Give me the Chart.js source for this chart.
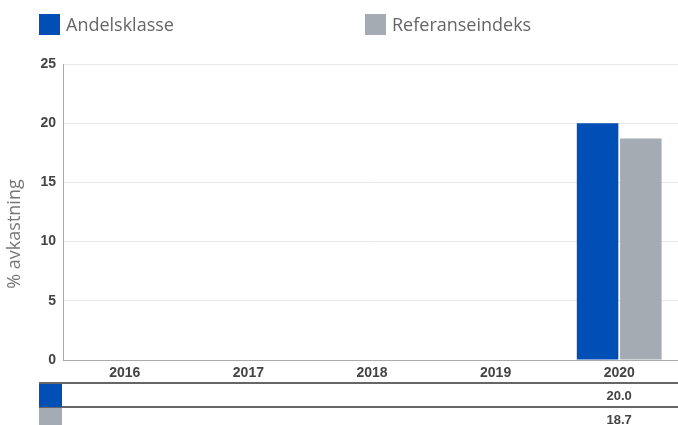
<!DOCTYPE html>
<html>
<head>
<meta charset="utf-8">
<script src="https://cdn.jsdelivr.net/npm/chart.js@4/dist/chart.umd.min.js"></script>
<style>
  html, body { margin: 0; padding: 0; background: #fff; overflow: hidden; }
  #wrap { width: 678px; height: 425px; position: relative; overflow: hidden; }
</style>
</head>
<body>
<div id="wrap"><canvas id="chart" width="681" height="425"></canvas></div>
<script>
// ===== data =====
const years = ['2016', '2017', '2018', '2019', '2020'];
const andelsklasse = [null, null, null, null, 20.0];
const referanseindeks = [null, null, null, null, 18.7];
const seriesNames = ['Andelsklasse', 'Referanseindeks'];
const yTicks = [0, 5, 10, 15, 20, 25];

const BLUE = '#004fb7';
const GREY = '#a4abb2';

// legend, rotated axis title and the value table under the x axis
const extras = {
  id: 'extras',
  afterDraw(chart) {
    const ctx = chart.ctx;
    const x = chart.scales.x;
    const sets = chart.data.datasets;
    ctx.save();

    // legend
    const legendX = [39, 365];
    ctx.font = '18px "Open Sans"';
    ctx.textBaseline = 'middle';
    ctx.textAlign = 'left';
    sets.forEach((ds, i) => {
      ctx.fillStyle = ds.backgroundColor;
      ctx.fillRect(legendX[i], 14, 21, 21);
      ctx.fillStyle = '#666';
      ctx.fillText(ds.label, legendX[i] + 27, 26);
    });

    // y axis title
    ctx.save();
    ctx.translate(15, 234);
    ctx.rotate(-Math.PI / 2);
    ctx.textAlign = 'center';
    ctx.fillStyle = '#777';
    ctx.font = '18px "Open Sans"';
    ctx.fillText('% avkastning', 0, 0);
    ctx.restore();

    // table
    const left = 39, right = chart.width;
    const rowTop = [384, 408], rowH = [23, 17];
    ctx.strokeStyle = '#333';
    ctx.lineWidth = 1.5;
    [383, 407].forEach(yy => {
      ctx.beginPath();
      ctx.moveTo(left, yy);
      ctx.lineTo(right, yy);
      ctx.stroke();
    });
    ctx.font = 'bold 13px "Liberation Sans", Arial, sans-serif';
    ctx.textAlign = 'center';
    sets.forEach((ds, i) => {
      ctx.fillStyle = ds.backgroundColor;
      ctx.fillRect(left, rowTop[i], 23, rowH[i] + (i === 1 ? 1 : 0));
      ctx.fillStyle = '#444';
      ds.data.forEach((v, j) => {
        if (v === null) return;
        ctx.fillText(v.toFixed(1), x.getPixelForValue(j), rowTop[i] + 12);
      });
    });
    ctx.restore();
  }
};

new Chart(document.getElementById('chart'), {
  type: 'bar',
  data: {
    labels: years,
    datasets: [
      { label: seriesNames[0], data: andelsklasse, backgroundColor: BLUE },
      { label: seriesNames[1], data: referanseindeks, backgroundColor: GREY }
    ]
  },
  options: {
    responsive: false,
    animation: false,
    devicePixelRatio: 1,
    categoryPercentage: 0.7,
    barPercentage: 0.96,
    layout: { padding: { top: 64, right: 0, bottom: 43, left: 0 } },
    plugins: { legend: { display: false }, tooltip: { enabled: false } },
    scales: {
      x: {
        grid: { display: false, drawTicks: false },
        border: { display: true, color: '#aaa', width: 1 },
        ticks: {
          color: '#444',
          padding: 5,
          font: { family: '"Liberation Sans", Arial, sans-serif', size: 14, weight: 'bold' }
        },
        afterFit(s) { s.height = 22; }
      },
      y: {
        min: 0,
        max: 25,
        afterBuildTicks(s) { s.ticks = yTicks.map(v => ({ value: v })); },
        grid: { color: '#e8e8e8', drawTicks: false },
        border: { display: true, color: '#aaa', width: 1 },
        ticks: {
          color: '#444',
          padding: 7,
          font: { family: '"Liberation Sans", Arial, sans-serif', size: 14, weight: 'bold' }
        },
        afterFit(s) { s.width = 63; }
      }
    }
  },
  plugins: [extras]
});
</script>
</body>
</html>
